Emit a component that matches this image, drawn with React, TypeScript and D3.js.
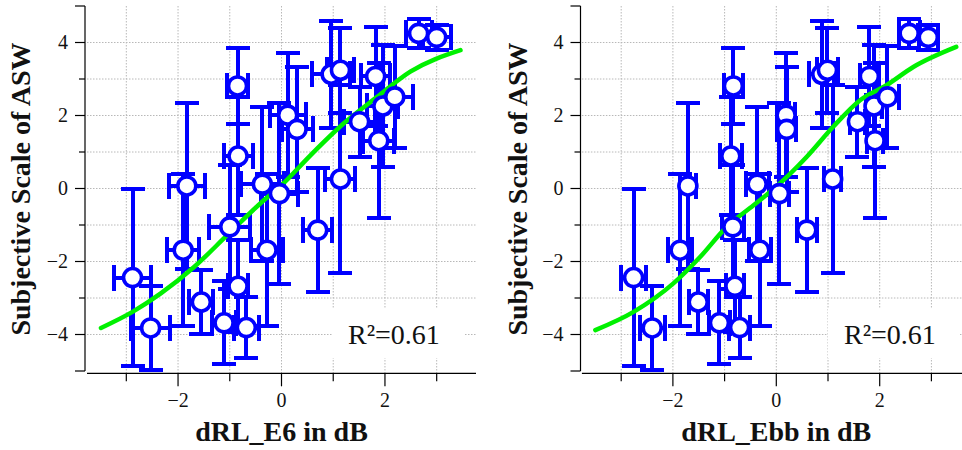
import { useMemo } from "react";
import * as d3 from "d3";

// subjective scale (shared by both panels)
const subjY = [-2.44, -3.82, 0.07, -1.69, -3.11, -3.68, -3.81, -2.68, -1.05, 0.89, 2.81, 0.12, -1.69, -0.14, 2.01, 1.62, -1.14, 0.26, 3.13, 3.24, 1.83, 3.07, 2.26, 2.51, 1.31, 4.25, 4.14];
const subjYErr = [2.43, 1.14, 2.28, 2.08, 0.87, 1.14, 0.83, 1.26, 1.69, 1.62, 1.04, 2.1, 2.08, 2.49, 1.69, 1.71, 1.7, 2.57, 1.46, 1.16, 0.96, 1.35, 1.67, 1.4, 2.13, 0.4, 0.35];

// dRL_E6
const e6X = [-2.88, -2.53, -1.83, -1.9, -1.55, -1.11, -0.68, -0.84, -1.0, -0.84, -0.85, -0.37, -0.28, -0.04, 0.12, 0.3, 0.7, 1.14, 0.96, 1.14, 1.51, 1.82, 1.96, 2.19, 1.88, 2.65, 3.0];
const e6XErr = [0.35, 0.38, 0.35, 0.31, 0.23, 0.23, 0.24, 0.2, 0.4, 0.28, 0.2, 0.42, 0.3, 0.35, 0.35, 0.3, 0.28, 0.29, 0.37, 0.26, 0.3, 0.28, 0.3, 0.36, 0.3, 0.25, 0.27];
const e6FitX = [-3.49, -2.88, -2.34, -1.69, -1.05, -0.41, 0, 0.56, 1.2, 1.85, 2.49, 3.46];
const e6FitY = [-3.82, -3.38, -2.88, -2.15, -1.28, -0.41, 0.09, 0.91, 1.78, 2.51, 3.2, 3.79];

// dRL_Ebb
const ebbX = [-2.76, -2.4, -1.71, -1.86, -1.51, -1.1, -0.71, -0.8, -0.84, -0.88, -0.83, -0.37, -0.32, 0.06, 0.19, 0.2, 0.59, 1.09, 0.88, 0.99, 1.57, 1.8, 1.89, 2.15, 1.91, 2.57, 2.94];
const ebbXErr = [0.24, 0.24, 0.15, 0.23, 0.18, 0.2, 0.2, 0.18, 0.21, 0.21, 0.19, 0.22, 0.21, 0.18, 0.18, 0.18, 0.19, 0.17, 0.24, 0.2, 0.15, 0.18, 0.15, 0.22, 0.15, 0.2, 0.18];
const ebbFitX = [-3.5, -2.76, -1.99, -1.47, -0.96, -0.44, 0, 0.59, 1.1, 1.62, 2.13, 2.65, 3.48];
const ebbFitY = [-3.88, -3.38, -2.6, -1.87, -1.05, -0.46, 0.05, 0.87, 1.69, 2.42, 2.83, 3.33, 3.88];

const yTicks = [-5, -4, -3, -2, -1, 0, 1, 2, 3, 4, 5];
const yLabels = [-4, -2, 0, 2, 4];
const xTicks = [-3, -2, -1, 0, 1, 2, 3];
const xLabels = [-2, 0, 2];
const rSquared = "R²=0.61";

const FONT = "'Liberation Serif', 'Times New Roman', Times, serif";
const BLUE = "#0000ff";
const GREEN = "#00f000";
const fmt = d3.format("d");

type PanelProps = {
  xs: number[];
  xErr: number[];
  fitX: number[];
  fitY: number[];
  xRange: [number, number];
  axisX: number;
  titleX: number;
  xTitle: string;
  labelX: number;
};

function Panel({ xs, xErr, fitX, fitY, xRange, axisX, titleX, xTitle, labelX }: PanelProps) {
  const x = useMemo(() => d3.scaleLinear().domain([-3.76, 3.76]).range(xRange), [xRange]);
  const y = d3.scaleLinear().domain([-5, 5]).range([371, 6]);
  const axisY = 373.3;

  const line = d3
    .line<number>()
    .x((d) => x(d))
    .y((_, i) => y(fitY[i]))
    .curve(d3.curveMonotoneX);

  const gridTop = y(5);
  const gridBottom = axisY;

  return (
    <g>
      {/* grid */}
      <g stroke="#b8b8b8" strokeWidth={1} strokeDasharray="1.5,1.5">
        {xTicks.map((t) => (
          <line key={"gx" + t} x1={x(t)} x2={x(t)} y1={gridTop} y2={gridBottom} />
        ))}
        {[-4, -3, -2, -1, 0, 1, 2, 3, 4].map((t) => (
          <line key={"gy" + t} x1={x.range()[0]} x2={x.range()[1]} y1={y(t)} y2={y(t)} />
        ))}
      </g>
      {/* R² box */}
      <rect x={labelX - 16} y={308} width={132} height={50} fill="white" />
      <text x={labelX} y={344} fontFamily={FONT} fontSize={28} fill="#111">
        {rSquared}
      </text>

      {/* y axis */}
      <g stroke="#000" strokeWidth={1.2}>
        <line x1={axisX} x2={axisX} y1={y(5)} y2={y(-5)} />
        {yTicks.map((t) => (
          <line key={"ty" + t} x1={axisX - (t % 2 === 0 || Math.abs(t) === 5 ? 10 : 6)} x2={axisX} y1={y(t)} y2={y(t)} />
        ))}
      </g>
      {yLabels.map((t) => (
        <text key={"ly" + t} x={axisX - 17} y={y(t) + 6.5} textAnchor="end" fontFamily={FONT} fontSize={20} fill="#111">
          {fmt(t)}
        </text>
      ))}
      <text
        transform={`translate(${titleX},189) rotate(-90)`}
        textAnchor="middle"
        fontFamily={FONT}
        fontWeight="bold"
        fontSize={28}
        fill="#111"
      >
        Subjective Scale of ASW
      </text>

      {/* x axis */}
      <g stroke="#000" strokeWidth={1.2}>
        <line x1={x.range()[0]} x2={x.range()[1]} y1={axisY} y2={axisY} />
        {xTicks.map((t) => (
          <line key={"tx" + t} x1={x(t)} x2={x(t)} y1={axisY} y2={axisY + (t % 2 === 0 ? 13 : 8)} />
        ))}
      </g>
      {xLabels.map((t) => (
        <text key={"lx" + t} x={x(t)} y={407} textAnchor="middle" fontFamily={FONT} fontSize={20} fill="#111">
          {fmt(t)}
        </text>
      ))}
      <text x={x(0)} y={441} textAnchor="middle" fontFamily={FONT} fontWeight="bold" fontSize={28} fill="#111">
        {xTitle}
      </text>

      {/* error bars */}
      <g stroke={BLUE} strokeWidth={4} fill="none" shapeRendering="crispEdges">
        {xs.map((xv, i) => {
          const cx = x(xv);
          const cy = y(subjY[i]);
          const yt = y(subjY[i] + subjYErr[i]);
          const yb = y(subjY[i] - subjYErr[i]);
          const xl = x(xv - xErr[i]);
          const xr = x(xv + xErr[i]);
          return (
            <g key={"e" + i}>
              <line x1={cx} x2={cx} y1={yt} y2={yb} />
              <line x1={cx - 12} x2={cx + 12} y1={yt} y2={yt} />
              <line x1={cx - 12} x2={cx + 12} y1={yb} y2={yb} />
              <line x1={xl} x2={xr} y1={cy} y2={cy} />
              <line x1={xl} x2={xl} y1={cy - 13} y2={cy + 13} />
              <line x1={xr} x2={xr} y1={cy - 13} y2={cy + 13} />
            </g>
          );
        })}
      </g>

      {/* fit */}
      <path d={line(fitX) || ""} fill="none" stroke={GREEN} strokeWidth={4.5} strokeLinecap="round" />

      {/* markers */}
      {xs.map((xv, i) => (
        <circle key={"c" + i} cx={x(xv)} cy={y(subjY[i])} r={9} fill="white" stroke={BLUE} strokeWidth={3.6} />
      ))}
    </g>
  );
}

export default function App() {
  return (
    <svg
      width={962}
      height={450}
      style={{ position: "absolute", left: 0, top: 0, background: "white" }}
    >
      <rect width={962} height={450} fill="white" />
      <Panel
        xs={e6X}
        xErr={e6XErr}
        fitX={e6FitX}
        fitY={e6FitY}
        xRange={[87, 476]}
        axisX={85}
        titleX={30}
        xTitle="dRL_E6 in dB"
        labelX={348}
      />
      <Panel
        xs={ebbX}
        xErr={ebbXErr}
        fitX={ebbFitX}
        fitY={ebbFitY}
        xRange={[581.9, 970.7]}
        axisX={580.5}
        titleX={527}
        xTitle="dRL_Ebb in dB"
        labelX={844}
      />
    </svg>
  );
}
